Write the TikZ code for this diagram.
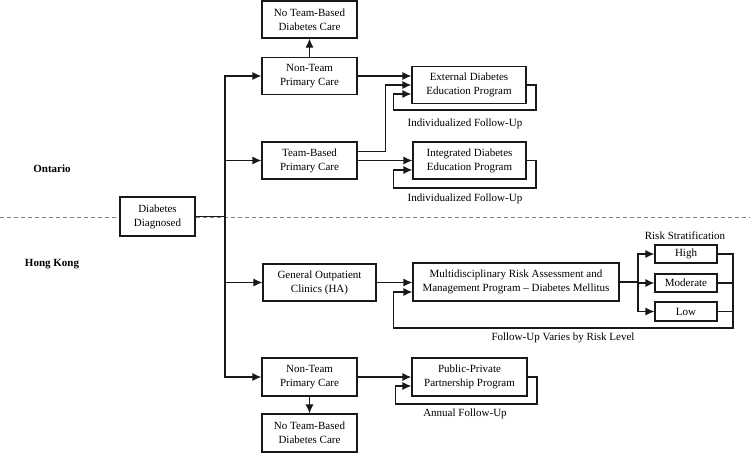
\documentclass[tikz,border=0pt]{standalone}
\usepackage{fontspec}
\setmainfont{Liberation Serif}
\usetikzlibrary{arrows.meta}
\tikzset{
  boxst/.style={draw=black!90, line width=1.2pt, fill=white, align=center, inner sep=1pt,
    font=\fontsize{11}{14}\selectfont},
  lblst/.style={font=\fontsize{11}{14}\selectfont, inner sep=0pt},
  hdrst/.style={font=\fontsize{11}{14}\selectfont\bfseries, inner sep=0pt},
  lnst/.style={draw=black!90, line width=1.2pt},
  arrst/.style={draw=black!90, line width=1.2pt, -{Latex[length=9pt,width=8pt]}}
}
\begin{document}
\begin{tikzpicture}[x=1pt,y=-1pt]
\useasboundingbox (0,0) rectangle (750,453);
\draw[gray, line width=1pt, dash pattern=on 4pt off 3pt] (0,217) -- (750,217);

\node[hdrst] (ont) at (52,169) {Ontario};
\node[hdrst] (hk) at (52,264) {Hong Kong};

\node[boxst, minimum width=75pt, minimum height=39pt] (dd) at (157.5,216.5) {Diabetes\\Diagnosed};
\node[boxst, minimum width=95pt, minimum height=37pt] (ontno) at (309.5,19.5) {No Team-Based\\Diabetes Care};
\node[boxst, minimum width=95pt, minimum height=37pt] (ontnt) at (309.5,76) {Non-Team\\Primary Care};
\node[boxst, minimum width=95pt, minimum height=37pt] (onttb) at (309.5,160.5) {Team-Based\\Primary Care};
\node[boxst, minimum width=114pt, minimum height=37pt] (ext) at (469,85) {External Diabetes\\Education Program};
\node[boxst, minimum width=113pt, minimum height=37pt] (integ) at (469.5,160.5) {Integrated Diabetes\\Education Program};
\node[boxst, minimum width=113pt, minimum height=37pt] (goc) at (319.5,282.5) {General Outpatient\\Clinics (HA)};
\node[boxst, minimum width=206pt, minimum height=38pt] (mrap) at (516,282) {Multidisciplinary Risk Assessment and\\Management Program -- Diabetes Mellitus};
\node[boxst, minimum width=62pt, minimum height=18pt] (high) at (686,254) {High};
\node[boxst, minimum width=62pt, minimum height=18pt] (mod) at (686,283) {Moderate};
\node[boxst, minimum width=62pt, minimum height=19pt] (low) at (686,311.5) {Low};
\node[boxst, minimum width=95pt, minimum height=38pt] (hknt) at (309.5,377) {Non-Team\\Primary Care};
\node[boxst, minimum width=95pt, minimum height=38pt] (hkno) at (309.5,433) {No Team-Based\\Diabetes Care};
\node[boxst, minimum width=115pt, minimum height=38pt] (ppp) at (469.5,377) {Public-Private\\Partnership Program};

\node[lblst] (l1) at (465,124) {Individualized Follow-Up};
\node[lblst] (l2) at (465,199) {Individualized Follow-Up};
\node[lblst] (l3) at (685,236) {Risk Stratification};
\node[lblst] (l4) at (563,338) {Follow-Up Varies by Risk Level};
\node[lblst] (l5) at (465,414) {Annual Follow-Up};

% trunk
\coordinate (trunk) at (225,216.5);
\draw[lnst] (dd.east) -- (trunk);
\draw[arrst] (trunk) |- (ontnt.west);
\draw[arrst] (trunk) |- (onttb.west);
\draw[arrst] (trunk) |- (goc.west);
\draw[arrst] (trunk) |- (hknt.west);

% Ontario
\draw[arrst] (ontnt.north) -- (ontno.south);
\draw[arrst] (ontnt.east) -- (ontnt.east -| ext.west);
\draw[arrst] ([yshift=9pt]onttb.east) -- ++(28,0) |- (ext.west);
\draw[arrst] (onttb.east) -- (integ.west);
\coordinate (extr) at (536,110);
\draw[arrst] (ext.east) -| (extr) -| ([xshift=-18pt,yshift=-9pt]ext.west) -- ([yshift=-9pt]ext.west);
\coordinate (intr) at (536,188);
\draw[arrst] (integ.east) -| (intr) -| ([xshift=-19pt,yshift=-9.5pt]integ.west) -- ([yshift=-9.5pt]integ.west);

% Hong Kong
\draw[arrst] (goc.east) -- (goc.east -| mrap.west);
\coordinate (split) at (638,282);
\draw[lnst] (mrap.east) -- (split);
\draw[arrst] (split) |- (high.west);
\draw[arrst] (split) |- (mod.west);
\draw[arrst] (split) |- (low.west);
\coordinate (rc) at (733,328);
\draw[lnst] (high.east) -| (rc);
\draw[lnst] (mod.east) -- (mod.east -| rc);
\draw[arrst] (low.east) -| (rc) -| ([xshift=-19pt,yshift=-10pt]mrap.west) -- ([yshift=-10pt]mrap.west);

\draw[arrst] (hknt.south) -- (hkno.north);
\draw[arrst] (hknt.east) -- (ppp.west);
\coordinate (pppr) at (537,404);
\draw[arrst] (ppp.east) -| (pppr) -| ([xshift=-16pt,yshift=-9pt]ppp.west) -- ([yshift=-9pt]ppp.west);
\end{tikzpicture}
\end{document}
